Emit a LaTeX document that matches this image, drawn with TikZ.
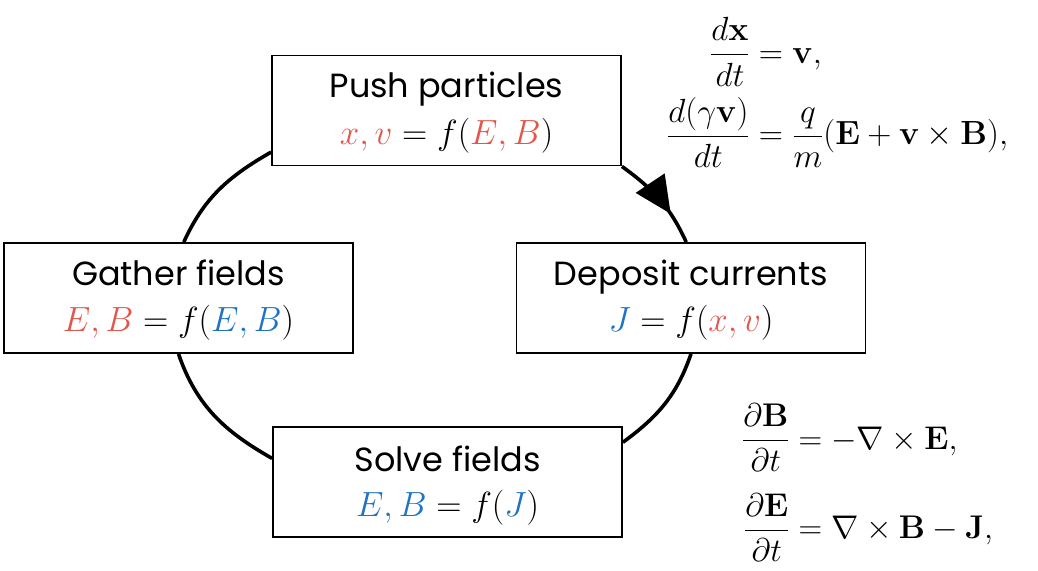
\documentclass[tikz,border=0pt]{standalone}
\usepackage{fix-cm}
\usepackage{amsmath}
\usepackage[no-math]{fontspec}
\setmainfont{Poppins}
\usetikzlibrary{arrows.meta,decorations.markings,calc}
\definecolor{cred}{HTML}{E3574B}
\definecolor{cblue}{HTML}{1F73C2}
\begin{document}
\begin{tikzpicture}[x=1pt,y=1pt,
  box/.style={draw=black, line width=1.8pt, fill=white, minimum width=349pt, minimum height=110pt, inner sep=0pt},
  ttl/.style={font=\fontsize{33.5}{40}\selectfont, inner sep=0pt, anchor=base},
  fml/.style={font=\fontsize{35}{42}\selectfont, inner sep=0pt, anchor=base},
  cyc/.style={line width=3.6pt},
  arrowmid/.style={postaction={decorate}, decoration={markings, mark=at position 0.68 with {\arrow{Triangle[length=37pt,width=34pt]}}}},
  eqn/.style={inner sep=0pt, anchor=north west},
]
\useasboundingbox (0,0) rectangle (1038,570);
% boxes
\node[box] (top) at (446.5,459.5) {};
\node[box] (left) at (178.5,272) {};
\node[box] (right) at (691,272) {};
\node[box] (bottom) at (447.5,88) {};
% connectors (elliptical cycle)
\draw[cyc, arrowmid] (top.south east) to[out=-36, in=114.5] ([xshift=-4.8pt]right.north);
\draw[cyc] (right.south) to[out=-109, in=36.2] ([yshift=-16.2pt]bottom.north east);
\draw[cyc] ([yshift=-32.3pt]bottom.north west) to[out=150.4, in=-71] (left.south);
\draw[cyc] ([xshift=5.3pt]left.north) to[out=65.5, in=209.9] ([yshift=14.3pt]top.south west);
% labels
\node[ttl] (topt) at ([yshift=-43pt]top.north) {Push particles};
\node[fml] (topf) at ([yshift=-90pt]top.north) {$\textcolor{cred}{x,v}=f(\textcolor{cred}{E,B})$};
\node[ttl] (leftt) at ([yshift=-43pt]left.north) {Gather fields};
\node[fml] (leftf) at ([yshift=-89pt]left.north) {$\textcolor{cred}{E,B}=f(\textcolor{cblue}{E,B})$};
\node[ttl] (rightt) at ([yshift=-43pt]right.north) {Deposit currents};
\node[fml] (rightf) at ([yshift=-89pt]right.north) {$\textcolor{cblue}{J}=f(\textcolor{cred}{x,v})$};
\node[ttl] (bottomt) at ([yshift=-45pt]bottom.north) {Solve fields};
\node[fml] (bottomf) at ([yshift=-90pt]bottom.north) {$\textcolor{cblue}{E,B}=f(\textcolor{cblue}{J})$};
% equations
\node[eqn, font=\fontsize{33.5}{40}\selectfont] (lorentz) at (667,553) {$\begin{aligned}
 \frac{d\mathbf{x}}{dt} &= \mathbf{v},\\[7pt]
 \frac{d(\gamma\mathbf{v})}{dt} &= \frac{q}{m}(\mathbf{E}+\mathbf{v}\times\mathbf{B}),
\end{aligned}$};
\node[eqn, font=\fontsize{32.8}{39}\selectfont] (maxwell) at (742,166) {$\begin{aligned}
 \frac{\partial\mathbf{B}}{\partial t} &= -\nabla\times\mathbf{E},\\[18pt]
 \frac{\partial\mathbf{E}}{\partial t} &= \nabla\times\mathbf{B}-\mathbf{J},
\end{aligned}$};
\end{tikzpicture}
\end{document}
